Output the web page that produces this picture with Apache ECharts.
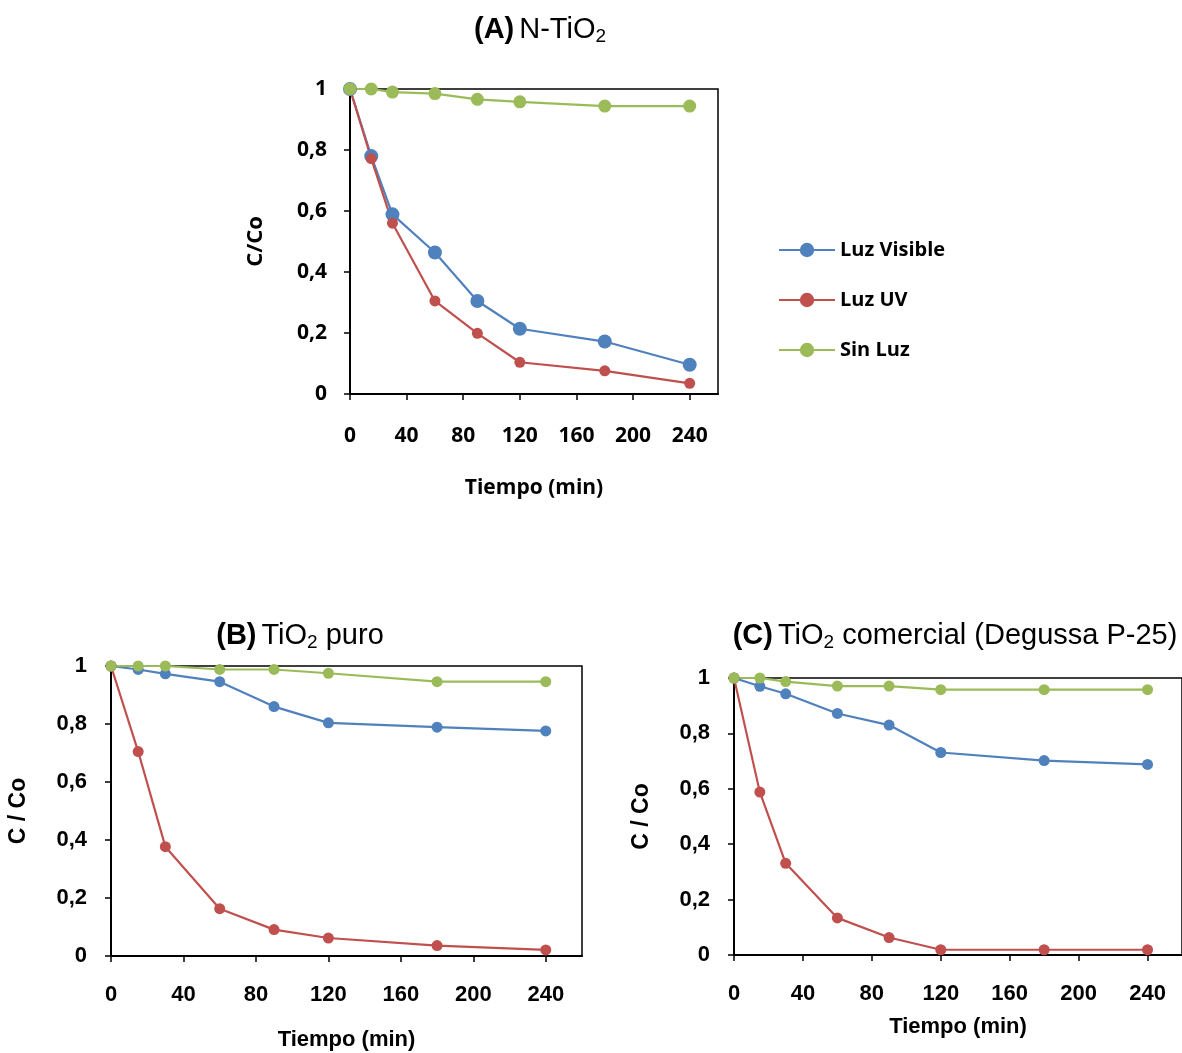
<!DOCTYPE html>
<html>
<head>
<meta charset="utf-8">
<script src="https://cdn.jsdelivr.net/npm/echarts@6/dist/echarts.min.js"></script>
<style>html,body{margin:0;padding:0;background:#fff}#c{width:1182px;height:1053px}</style>
</head>
<body>
<div id="c"></div>
<script>
// Time points (min)
const times = [0, 15, 30, 60, 90, 120, 180, 240];
// Tick labels
const xTicks = [0, 40, 80, 120, 160, 200, 240];
const seriesNames = ['Luz Visible', 'Luz UV', 'Sin Luz'];
// (A) N-TiO2
const aVisible = [1.0, 0.780, 0.589, 0.464, 0.305, 0.214, 0.172, 0.096];
const aUV      = [1.0, 0.772, 0.560, 0.305, 0.199, 0.104, 0.076, 0.035];
const aSinLuz  = [1.0, 1.0, 0.990, 0.985, 0.966, 0.958, 0.944, 0.944];
// (B) TiO2 puro
const bVisible = [1.0, 0.988, 0.973, 0.946, 0.860, 0.804, 0.789, 0.776];
const bUV      = [1.0, 0.705, 0.377, 0.163, 0.091, 0.062, 0.036, 0.021];
const bSinLuz  = [1.0, 1.0, 1.0, 0.988, 0.988, 0.975, 0.946, 0.946];
// (C) TiO2 comercial (Degussa P-25)
const cVisible = [1.0, 0.970, 0.943, 0.872, 0.830, 0.731, 0.702, 0.688];
const cUV      = [1.0, 0.588, 0.331, 0.134, 0.063, 0.019, 0.019, 0.019];
const cSinLuz  = [1.0, 1.0, 0.987, 0.971, 0.971, 0.958, 0.958, 0.958];

const colors = ['#4F81BD', '#C0504D', '#9BBB59'];
const pair = arr => times.map((t, i) => [t, arr[i]]);

const fA = 'Open Sans';
const fB = 'Liberation Sans';

function xAxisCfg(gi, font, size, margin, gap) {
  return {
    type: 'value', gridIndex: gi, min: 0, max: 260, interval: 20,
    name: 'Tiempo (min)', nameLocation: 'middle', nameGap: gap,
    nameTextStyle: {fontFamily: font, fontWeight: 'bold', fontSize: size, color: '#000', verticalAlign: 'top'},
    axisLine: {show: true, lineStyle: {color: '#000', width: 2}},
    axisTick: {show: true, inside: false, length: 6, lineStyle: {color: '#000', width: 1.5}, customValues: xTicks},
    axisLabel: {fontFamily: font, fontWeight: 'bold', fontSize: size, color: '#000', margin: margin, customValues: xTicks},
    splitLine: {show: false}
  };
}
function yAxisCfg(gi, font, size, name, gap, nameSize, margin) {
  return {
    type: 'value', gridIndex: gi, min: 0, max: 1, interval: 0.2,
    name: name, nameLocation: 'middle', nameGap: gap,
    nameTextStyle: {fontFamily: font, fontWeight: 'bold', fontSize: nameSize, color: '#000'},
    axisLine: {show: true, lineStyle: {color: '#000', width: 2}},
    axisTick: {show: true, inside: false, length: 6, lineStyle: {color: '#000', width: 1.5}},
    axisLabel: {fontFamily: font, fontWeight: 'bold', fontSize: size, color: '#000', margin: margin,
      formatter: v => String(Math.round(v * 10) / 10).replace('.', ',')},
    splitLine: {show: false}
  };
}
function lineSeries(name, data, gi, color, size) {
  return {
    name: name, type: 'line', xAxisIndex: gi, yAxisIndex: gi, data: pair(data),
    symbol: 'circle', symbolSize: size, showSymbol: true,
    lineStyle: {color: color, width: 2.2},
    itemStyle: {color: color},
    emphasis: {disabled: true}, animation: false
  };
}
function titleCfg(letter, main, rest, cx, cy) {
  return {
    text: '{b|(' + letter + ')} {n|' + main + '}{s|2}{n|' + rest + '}',
    left: cx, top: cy, textAlign: 'center',
    textStyle: {
      fontWeight: 'normal',
      rich: {
        b: {fontFamily: fB, fontWeight: 'bold', fontSize: 29, color: '#000', lineHeight: 33},
        n: {fontFamily: fB, fontWeight: 'normal', fontSize: 29, color: '#000', lineHeight: 33},
        s: {fontFamily: fB, fontWeight: 'normal', fontSize: 19, color: '#000', lineHeight: 19, verticalAlign: 'bottom'}
      }
    }
  };
}

const chart = echarts.init(document.getElementById('c'), null, {renderer: 'canvas'});
chart.setOption({
  animation: false,
  backgroundColor: '#fff',
  title: [
    titleCfg('A', 'N-TiO', '', 535, 8),
    titleCfg('B', 'TiO', ' puro', 295, 614),
    titleCfg('C', 'TiO', ' comercial (Degussa P-25)', 950, 614)
  ],
  legend: {
    orient: 'vertical', left: 778, top: 240, padding: 0, itemWidth: 56, itemHeight: 18, itemGap: 30,
    data: seriesNames,
    textStyle: {fontFamily: fA, fontWeight: 'bold', fontSize: 20, color: '#000', lineHeight: 18}
  },
  grid: [
    {left: 350, top: 89, width: 368, height: 305, show: true, borderColor: '#000', borderWidth: 1.5, backgroundColor: 'transparent'},
    {left: 111, top: 666, width: 471, height: 290, show: true, borderColor: '#000', borderWidth: 1.5, backgroundColor: 'transparent'},
    {left: 734, top: 678, width: 457, height: 277, show: true, borderColor: '#000', borderWidth: 1.5, backgroundColor: 'transparent'}
  ],
  xAxis: [
    xAxisCfg(0, fA, 21, 32, 84),
    xAxisCfg(1, fB, 22, 28, 73),
    xAxisCfg(2, fB, 22, 28, 61)
  ],
  yAxis: [
    yAxisCfg(0, fA, 21, 'C/Co', 83, 22, 23),
    yAxisCfg(1, fB, 22, 'C / Co', 81, 23, 24),
    yAxisCfg(2, fB, 22, 'C / Co', 81, 23, 24)
  ],
  series: [
    lineSeries(seriesNames[0], aVisible, 0, colors[0], 14),
    lineSeries(seriesNames[1], aUV, 0, colors[1], 11),
    lineSeries(seriesNames[2], aSinLuz, 0, colors[2], 13),
    lineSeries(seriesNames[0], bVisible, 1, colors[0], 11),
    lineSeries(seriesNames[1], bUV, 1, colors[1], 11),
    lineSeries(seriesNames[2], bSinLuz, 1, colors[2], 11),
    lineSeries(seriesNames[0], cVisible, 2, colors[0], 11),
    lineSeries(seriesNames[1], cUV, 2, colors[1], 11),
    lineSeries(seriesNames[2], cSinLuz, 2, colors[2], 11)
  ]
});
</script>
</body>
</html>
